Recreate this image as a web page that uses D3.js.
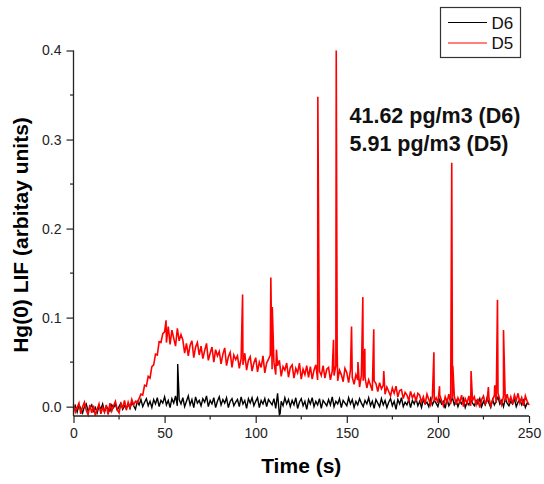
<!DOCTYPE html>
<html>
<head>
<meta charset="utf-8">
<script src="https://cdn.jsdelivr.net/npm/d3@7"></script>
<style>
  html, body { margin: 0; padding: 0; background: #fff; }
  svg { display: block; font-family: "Liberation Sans", Arial, sans-serif; }
</style>
</head>
<body>
<svg id="chart" width="544" height="484"></svg>
<script>
// values, in thousandths of a LIF unit, one sample per second (t = 0..250)
const d5Base = [
  3, -6, -1, 4, -8, 0, 5, -4, -9, 2,
  -7, 1, -10, -3, 3, -8, -1, -6, 2, -9,
  4, -5, 1, 6, -3, -7, 3, -1, 7, -4,
  5, -1, 8, 2, 6, 4, 9, 14, 13, 24,
  23, 34, 32, 45, 47, 59, 58, 73, 72, 82,
  84, 72, 90, 70, 86, 77, 68, 88, 74, 81,
  75, 60, 71, 57, 69, 74, 55, 67, 72, 58,
  68, 54, 63, 71, 52, 60, 67, 50, 64, 57,
  62, 48, 59, 66, 46, 56, 61, 44, 58, 53,
  57, 43, 54, 47, 60, 41, 52, 56, 40, 49,
  55, 39, 50, 44, 57, 38, 49, 53, 58, 42,
  50, 36, 46, 52, 34, 45, 41, 49, 33, 44,
  47, 32, 43, 38, 49, 31, 42, 36, 46, 33,
  45, 31, 41, 47, 30, 40, 35, 46, 32, 42,
  44, 30, 40, 35, 46, 29, 41, 36, 28, 43,
  38, 27, 41, 33, 25, 36, 30, 22, 35, 29,
  33, 21, 30, 24, 18, 29, 26, 17, 27, 20,
  24, 14, 22, 17, 12, 21, 15, 23, 11, 18,
  19, 9, 16, 13, 7, 17, 10, 14, 6, 15,
  13, 5, 11, 3, 14, 8, 2, 12, 6, 10,
  4, 13, 7, 1, 11, 5, 14, 3, 9, 12,
  2, 10, 5, 13, 0, 9, 4, 12, 1, 7,
  11, 2, 9, -1, 8, 12, 3, 6, 10, 1,
  7, 13, 4, 15, 8, 2, 12, 6, 14, 5,
  11, 3, 13, 7, 15, 4, 10, 1, 12, 6,
  2
];
const d6Base = [
  -4, 1, -6, 2, -2, -7, 0, 3, -5, -1,
  2, -5, -1, -7, 1, -3, 3, -6, 0, -2,
  -5, 2, -1, 3, -4, 0, 4, -3, 1, -2,
  3, -2, 5, 1, -3, 6, 2, 8, 0, 5,
  9, 1, 6, -1, 8, 3, 10, 0, 7, 4,
  11, 2, 7, -1, 9, 4, 12, 1, 8, 3,
  10, 0, 6, 12, 2, 8, -1, 11, 4, 7,
  1, 9, 5, 12, 0, 7, 3, 10, -1, 6,
  11, 2, 8, 4, 10, -1, 6, 9, 1, 5,
  8, 0, 11, 3, 7, -2, 9, 4, 10, 1,
  6, 10, -1, 7, 3, 9, 0, 8, 5, 2,
  9, -2, 15, -9, 6, 1, 10, 3, 8, 0,
  7, 2, 10, -2, 5, 9, 1, 6, -3, 8,
  3, 10, 0, 6, 2, 9, -2, 7, 4, 1,
  8, 2, 11, 0, 6, 3, 9, -1, 7, 4,
  1, 10, 3, 8, -1, 6, 2, 9, 4, 0,
  7, 3, 10, 1, 6, -2, 8, 4, 0, 9,
  2, 7, -1, 5, 9, 1, 6, -3, 8, 3,
  10, 0, 5, 2, 8, -1, 7, 3, 9, 1,
  6, -1, 8, 3, 5, 0, 9, 2, 7, 4,
  0, 8, 3, 6, -2, 9, 1, 5, 10, 2,
  7, 0, 6, 3, 9, -1, 5, 2, 8, 4,
  1, 7, 3, 9, 0, 6, 2, 10, 4, -1,
  8, 2, 6, 11, 3, 7, 0, 9, 4, 1,
  6, 3, 9, 0, 5, 8, 2, 7, -1, 4,
  2
];

// narrow spikes: [time (s), value in thousandths]
const d5Spikes = [
  [50.8, 97], [92.8, 126], [108.3, 145], [109.1, 112], [111.4, 64],
  [134.1, 348], [142.7, 75], [144.2, 400], [144.7, 65], [152.6, 90],
  [156.1, 50], [158.8, 123], [159.9, 65], [164.8, 87], [170.3, 40],
  [197.8, 61], [200.9, 23], [207.6, 274], [208.2, 46], [218.2, 40],
  [227.7, 22], [231.2, 24], [232.7, 120], [236.0, 86]
];
const d6Spikes = [[57.2, 48], [113.4, -8]];

const xTicks = [0, 50, 100, 150, 200, 250];
const yTicks = [0, 0.1, 0.2, 0.3, 0.4];
const seriesNames = ["D6", "D5"];
const seriesColors = ["#000000", "#ff0000"];
const notes = ["41.62 pg/m3 (D6)", "5.91 pg/m3 (D5)"];

function buildSeries(base, spikes) {
  let pts = base.map((v, i) => [i, v / 1000]);
  spikes.forEach(s => pts.push([s[0], s[1] / 1000]));
  return pts.sort((a, b) => a[0] - b[0]);
}

const svg = d3.select("#chart");
const left = 73.5, bottom = 416;

const x = d3.scaleLinear().domain([0, 250]).range([left, 529]);
const y = d3.scaleLinear().domain([-0.0105, 0.4]).range([bottom, 50.5]);

const line = d3.line().x(d => x(d[0])).y(d => y(d[1]));

const data = [buildSeries(d6Base, d6Spikes), buildSeries(d5Base, d5Spikes)];

svg.selectAll("path.series")
  .data(data)
  .join("path")
  .attr("class", "series")
  .attr("fill", "none")
  .attr("stroke", (d, i) => seriesColors[i])
  .attr("stroke-width", (d, i) => i ? 1.6 : 1.4)
  .attr("d", line);

// axes
const xAxis = d3.axisBottom(x).tickValues(xTicks).tickFormat(d3.format("d"))
  .tickSizeInner(7).tickSizeOuter(0).tickPadding(5);
const yAxis = d3.axisLeft(y).tickValues(yTicks).tickFormat(d3.format(".1f"))
  .tickSizeInner(7).tickSizeOuter(0).tickPadding(5);

let gx = svg.append("g").attr("transform", `translate(0,${bottom})`).call(xAxis);
let gy = svg.append("g").attr("transform", `translate(${left},0)`).call(yAxis);

[gx, gy].forEach(g => {
  g.select(".domain").attr("stroke", "#222").attr("stroke-width", 1.3);
  g.selectAll(".tick line").attr("stroke", "#222").attr("stroke-width", 1.2);
  g.selectAll(".tick text").attr("fill", "#222")
    .style("font-family", "'Liberation Sans', Arial, sans-serif").style("font-size", "14px");
});
gy.select(".domain").attr("d", `M0,${bottom}V${y(0.4)}`);
gx.select(".domain").attr("d", `M${x(0)},0H${x(250)}`);

// minor ticks
const xMinor = xTicks.slice(0, -1).map(v => v + 25);
const yMinor = yTicks.slice(0, -1).map(v => v + 0.05);
svg.append("g").selectAll("line").data(xMinor).join("line")
  .attr("x1", d => x(d)).attr("x2", d => x(d))
  .attr("y1", bottom).attr("y2", bottom + 3.5)
  .attr("stroke", "#222").attr("stroke-width", 1.2);
svg.append("g").selectAll("line").data(yMinor).join("line")
  .attr("x1", left).attr("x2", left - 3.5)
  .attr("y1", d => y(d)).attr("y2", d => y(d))
  .attr("stroke", "#222").attr("stroke-width", 1.2);

// axis titles
svg.append("text")
  .attr("x", (x(0) + x(250)) / 2).attr("y", 473)
  .attr("text-anchor", "middle")
  .style("font-size", "21px").style("font-weight", "bold")
  .text("Time (s)");

svg.append("text")
  .attr("transform", "translate(28,235) rotate(-90)")
  .attr("text-anchor", "middle")
  .style("font-size", "21px").style("font-weight", "bold")
  .text("Hg(0) LIF (arbitay units)");

// annotation
svg.append("g").selectAll("text").data(notes).join("text")
  .attr("x", 349.5).attr("y", (d, i) => 123 + i * 27.5)
  .style("font-size", "21.5px").style("font-weight", "bold")
  .attr("fill", "#111")
  .text(d => d);

// legend
const legend = svg.append("g");
legend.append("rect")
  .attr("x", 440.5).attr("y", 7.5).attr("width", 80).attr("height", 50)
  .attr("fill", "#fff").attr("stroke", "#333").attr("stroke-width", 1.2);
const items = legend.selectAll("g.item").data(seriesNames).join("g")
  .attr("class", "item")
  .attr("transform", (d, i) => `translate(0,${22.5 + i * 20.5})`);
items.append("line")
  .attr("x1", 448).attr("x2", 487).attr("y1", 0).attr("y2", 0)
  .attr("stroke", (d, i) => seriesColors[i]).attr("stroke-width", 1.2);
items.append("text")
  .attr("x", 491.5).attr("y", 6)
  .style("font-size", "17px")
  .attr("fill", "#111")
  .text(d => d);
</script>
</body>
</html>
